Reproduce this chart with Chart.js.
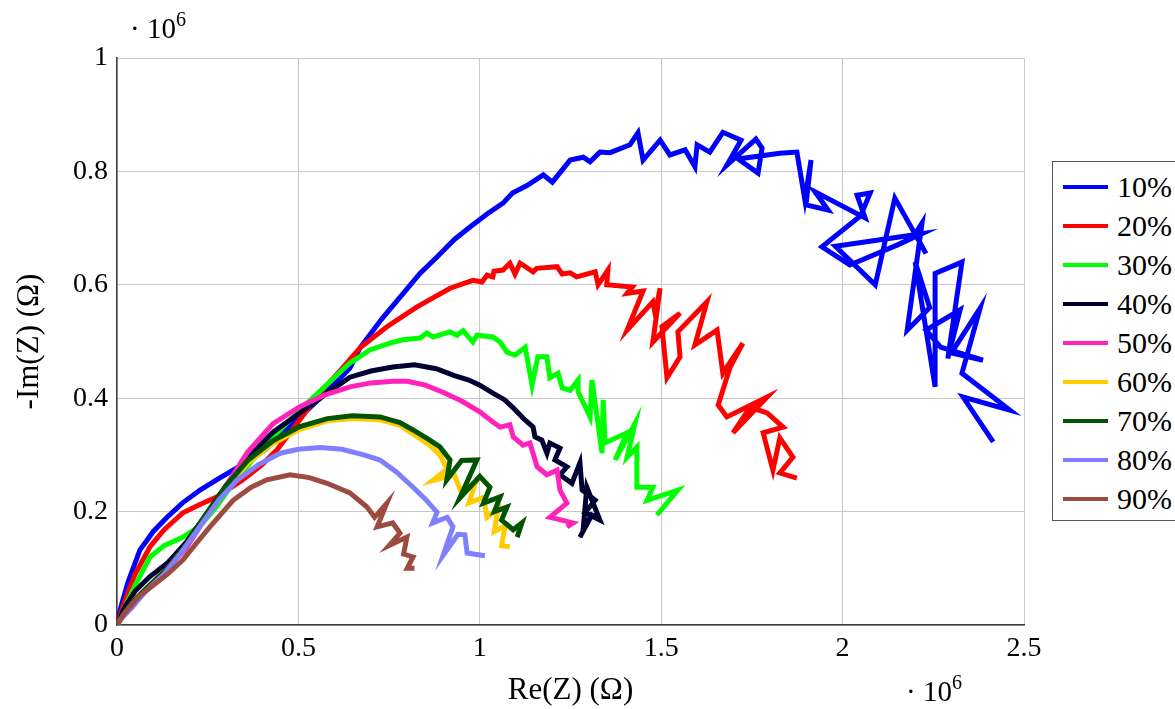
<!DOCTYPE html>
<html>
<head>
<meta charset="utf-8">
<script src="https://cdn.jsdelivr.net/npm/chart.js@4/dist/chart.umd.min.js"></script>
<style>
  body { margin: 0; background: #fff; overflow: hidden; }
  #wrap { position: relative; width: 1175px; height: 709px; overflow: hidden; font-family: "Liberation Serif", "DejaVu Serif", serif; }
  #c { position: absolute; left: 0; top: 0; }
  .mult { position: absolute; font-size: 29px; line-height: 1; color: #000; white-space: nowrap; }
  .mult sup { font-size: 20px; vertical-align: 0; position: relative; top: -12px; }
  #legend { position: absolute; left: 1052px; top: 161px; width: 150px; height: 360px; border: 1px solid #555; background: #fff; box-sizing: border-box; }
  .item { position: absolute; left: 10px; height: 39px; display: flex; align-items: center; font-size: 30px; }
  .item i { display: inline-block; width: 45px; height: 4px; margin-right: 9px; }
</style>
</head>
<body>
<div id="wrap">
  <canvas id="c" width="1175" height="709"></canvas>
  <div class="mult" style="left:130px; top:14px;">· 10<sup>6</sup></div>
  <div class="mult" style="left:906px; top:677px;">· 10<sup>6</sup></div>
  <div id="legend"></div>
</div>
<script>
// 凡例ラベルと色
const labels = ['10%', '20%', '30%', '40%', '50%', '60%', '70%', '80%', '90%'];
const colors = ['#0000ff', '#ff0000', '#00ff00', '#000033', '#ff22bb', '#ffcc00', '#005400', '#8080ff', '#9b4b3f'];

// 軸の目盛 (単位 10^6 Ω)
const xTicks = [0, 0.5, 1, 1.5, 2, 2.5];
const yTicks = [0, 0.2, 0.4, 0.6, 0.8, 1];

// 各系列 [Re(Z), -Im(Z)] (単位 10^6 Ω)
const z10 = [[0,0],[0.01,0.03],[0.03,0.075],[0.063,0.132],[0.10,0.165],[0.138,0.19],[0.18,0.215],[0.229,0.238],[0.28,0.258],[0.32,0.273],[0.367,0.291],[0.41,0.31],[0.45,0.335],[0.504,0.367],[0.56,0.40],[0.60,0.425],[0.642,0.453],[0.67,0.489],[0.73,0.54],[0.789,0.585],[0.835,0.62],[0.882,0.649],[0.93,0.68],[0.973,0.702],[1.02,0.725],[1.064,0.744],[1.09,0.762],[1.13,0.775],[1.175,0.794],[1.2,0.781],[1.249,0.82],[1.285,0.825],[1.304,0.817],[1.331,0.834],[1.359,0.833],[1.414,0.847],[1.436,0.868],[1.45,0.82],[1.497,0.855],[1.524,0.829],[1.566,0.838],[1.593,0.808],[1.599,0.847],[1.634,0.834],[1.670,0.869],[1.720,0.855],[1.681,0.811],[1.761,0.857],[1.778,0.841],[1.767,0.797],[1.712,0.822],[1.827,0.832],[1.874,0.834],[1.896,0.750],[1.913,0.820],[1.899,0.741],[1.960,0.732],[1.924,0.764],[2.062,0.718],[2.040,0.758],[2.076,0.762],[2.050,0.722],[1.943,0.667],[2.020,0.635],[2.150,0.670],[2.218,0.690],[1.980,0.668],[2.090,0.600],[2.144,0.753],[2.230,0.655],[2.200,0.690],[2.219,0.709],[2.178,0.520],[2.240,0.560],[2.200,0.640],[2.255,0.420],[2.255,0.620],[2.329,0.640],[2.290,0.470],[2.324,0.556],[2.230,0.520],[2.270,0.490],[2.387,0.467],[2.300,0.480],[2.379,0.559],[2.329,0.444],[2.461,0.379],[2.332,0.402],[2.415,0.323]];
const z20 = [[0,0],[0.02,0.04],[0.05,0.09],[0.091,0.138],[0.13,0.168],[0.182,0.198],[0.23,0.213],[0.276,0.226],[0.347,0.256],[0.40,0.283],[0.441,0.309],[0.504,0.362],[0.56,0.41],[0.62,0.452],[0.67,0.489],[0.744,0.526],[0.827,0.561],[0.918,0.594],[0.981,0.608],[1.006,0.605],[1.02,0.617],[1.036,0.614],[1.039,0.624],[1.064,0.626],[1.083,0.638],[1.097,0.619],[1.111,0.638],[1.147,0.623],[1.157,0.629],[1.213,0.632],[1.227,0.619],[1.249,0.621],[1.267,0.614],[1.318,0.623],[1.326,0.600],[1.353,0.626],[1.350,0.600],[1.420,0.596],[1.406,0.585],[1.450,0.589],[1.406,0.520],[1.477,0.570],[1.483,0.550],[1.497,0.594],[1.477,0.499],[1.552,0.550],[1.502,0.526],[1.516,0.436],[1.552,0.473],[1.546,0.517],[1.626,0.570],[1.593,0.494],[1.654,0.520],[1.670,0.444],[1.725,0.497],[1.690,0.455],[1.657,0.388],[1.681,0.367],[1.792,0.402],[1.698,0.339],[1.745,0.384],[1.792,0.374],[1.836,0.349],[1.781,0.339],[1.808,0.273],[1.827,0.330],[1.863,0.296],[1.827,0.268],[1.874,0.259]];
const z30 = [[0,0],[0.02,0.03],[0.05,0.07],[0.091,0.12],[0.13,0.14],[0.182,0.155],[0.229,0.175],[0.27,0.205],[0.32,0.25],[0.413,0.321],[0.504,0.379],[0.58,0.425],[0.642,0.462],[0.697,0.485],[0.752,0.497],[0.788,0.503],[0.835,0.506],[0.854,0.515],[0.871,0.508],[0.918,0.517],[0.937,0.511],[0.954,0.519],[0.981,0.499],[0.992,0.511],[1.036,0.508],[1.056,0.499],[1.075,0.481],[1.097,0.476],[1.125,0.490],[1.144,0.423],[1.160,0.473],[1.185,0.473],[1.193,0.436],[1.216,0.444],[1.227,0.418],[1.249,0.414],[1.271,0.432],[1.271,0.411],[1.304,0.367],[1.309,0.432],[1.337,0.303],[1.340,0.397],[1.345,0.321],[1.406,0.339],[1.373,0.291],[1.428,0.356],[1.406,0.296],[1.433,0.314],[1.433,0.243],[1.477,0.243],[1.461,0.220],[1.546,0.238],[1.488,0.194]];
const z40 = [[0,0],[0.02,0.03],[0.05,0.06],[0.09,0.085],[0.14,0.11],[0.19,0.145],[0.24,0.19],[0.30,0.245],[0.36,0.295],[0.43,0.34],[0.504,0.374],[0.57,0.405],[0.642,0.437],[0.70,0.448],[0.76,0.455],[0.82,0.459],[0.88,0.452],[0.93,0.44],[0.97,0.432],[1.0,0.423],[1.036,0.409],[1.069,0.397],[1.092,0.383],[1.119,0.365],[1.147,0.349],[1.152,0.332],[1.171,0.326],[1.185,0.303],[1.193,0.321],[1.221,0.312],[1.207,0.291],[1.240,0.279],[1.221,0.265],[1.254,0.25],[1.276,0.286],[1.282,0.238],[1.318,0.22],[1.290,0.198],[1.331,0.185],[1.295,0.243],[1.285,0.17],[1.312,0.198],[1.276,0.155]];
const z50 = [[0,0],[0.02,0.02],[0.05,0.045],[0.09,0.07],[0.14,0.10],[0.19,0.135],[0.24,0.185],[0.30,0.245],[0.36,0.305],[0.43,0.355],[0.504,0.385],[0.57,0.405],[0.642,0.42],[0.70,0.427],[0.76,0.43],[0.80,0.43],[0.85,0.423],[0.90,0.41],[0.95,0.395],[1.0,0.376],[1.036,0.358],[1.056,0.349],[1.083,0.353],[1.092,0.332],[1.119,0.317],[1.138,0.321],[1.158,0.279],[1.185,0.265],[1.213,0.273],[1.221,0.238],[1.240,0.215],[1.193,0.19],[1.257,0.18],[1.240,0.173]];
const z60 = [[0,0],[0.02,0.02],[0.05,0.045],[0.09,0.07],[0.14,0.10],[0.19,0.14],[0.24,0.188],[0.30,0.24],[0.36,0.285],[0.43,0.32],[0.504,0.345],[0.58,0.36],[0.648,0.364],[0.725,0.362],[0.78,0.352],[0.816,0.337],[0.86,0.318],[0.89,0.30],[0.91,0.275],[0.87,0.255],[0.93,0.265],[0.95,0.232],[0.99,0.255],[0.97,0.215],[1.01,0.225],[1.02,0.19],[1.05,0.205],[1.04,0.165],[1.07,0.175],[1.06,0.14],[1.083,0.138]];
const z70 = [[0,0],[0.02,0.02],[0.05,0.045],[0.09,0.07],[0.14,0.10],[0.19,0.14],[0.24,0.19],[0.30,0.245],[0.36,0.29],[0.43,0.325],[0.504,0.35],[0.58,0.364],[0.648,0.369],[0.725,0.367],[0.78,0.357],[0.816,0.344],[0.86,0.327],[0.89,0.314],[0.918,0.291],[0.909,0.256],[0.95,0.29],[0.992,0.291],[0.945,0.224],[1.0,0.262],[1.028,0.243],[1.01,0.215],[1.056,0.226],[1.04,0.20],[1.075,0.208],[1.06,0.185],[1.092,0.168],[1.116,0.18],[1.103,0.155]];
const z80 = [[0,0],[0.01,0.01],[0.04,0.03],[0.08,0.06],[0.13,0.09],[0.18,0.13],[0.23,0.175],[0.28,0.22],[0.33,0.255],[0.39,0.283],[0.45,0.303],[0.50,0.31],[0.56,0.313],[0.62,0.31],[0.68,0.30],[0.725,0.291],[0.77,0.27],[0.816,0.243],[0.85,0.222],[0.882,0.199],[0.87,0.18],[0.91,0.19],[0.926,0.173],[0.899,0.123],[0.94,0.16],[0.959,0.159],[0.965,0.127],[1.014,0.122]];
const z90 = [[0,0],[0.02,0.02],[0.06,0.05],[0.10,0.07],[0.14,0.09],[0.182,0.115],[0.22,0.145],[0.256,0.173],[0.32,0.22],[0.37,0.243],[0.413,0.256],[0.477,0.265],[0.53,0.26],[0.579,0.25],[0.642,0.233],[0.689,0.208],[0.71,0.19],[0.744,0.215],[0.717,0.173],[0.76,0.18],[0.78,0.162],[0.75,0.14],[0.799,0.155],[0.79,0.125],[0.816,0.12],[0.80,0.10],[0.82,0.10]];

const series = [z10, z20, z30, z40, z50, z60, z70, z80, z90];

// 目盛ラベル: 0.5 → "0.5", 1.0 → "1"
function fmt(v) {
  return String(Number(v.toFixed(1)));
}

const datasets = series.map((pts, i) => ({
  label: labels[i],
  data: pts.map(p => ({ x: p[0], y: p[1] })),
  borderColor: colors[i],
  backgroundColor: colors[i],
  borderWidth: 5,
  borderJoinStyle: 'miter',
  borderCapStyle: 'butt',
  showLine: true,
  pointRadius: 0,
  tension: 0,
  order: series.length - 1 - i, // 後の系列を上に描く
}));

const family = '"Liberation Serif", "DejaVu Serif", serif';
const tickFont = { family, size: 28 };
const titleFont = { family, size: 31 };

new Chart(document.getElementById('c'), {
  type: 'scatter',
  data: { datasets },
  options: {
    responsive: false,
    animation: false,
    layout: { padding: { left: 0, top: 58, right: 151, bottom: 0 } },
    plugins: { legend: { display: false }, tooltip: { enabled: false } },
    scales: {
      x: {
        type: 'linear', min: 0, max: 2.5,
        afterBuildTicks: s => { s.ticks = xTicks.map(v => ({ value: v })); },
        afterFit: s => { s.height = 84; },
        ticks: { color: '#000', font: tickFont, padding: 7, maxRotation: 0, callback: v => fmt(v) },
        grid: { color: '#c8c8c8', lineWidth: 1, drawTicks: false },
        border: { color: '#404040', width: 1.5 },
        title: { display: true, text: 'Re(Z) (Ω)', color: '#000', font: titleFont, padding: { top: 0, bottom: 0 } },
      },
      y: {
        type: 'linear', min: 0, max: 1,
        afterBuildTicks: s => { s.ticks = yTicks.map(v => ({ value: v })); },
        afterFit: s => { s.width = 117; },
        ticks: { color: '#000', font: tickFont, padding: 9, callback: v => fmt(v) },
        grid: { color: '#c8c8c8', lineWidth: 1, drawTicks: false },
        border: { color: '#404040', width: 1.5 },
        title: { display: true, text: '-Im(Z) (Ω)', color: '#000', font: titleFont, padding: { top: 11, bottom: 0 } },
      },
    },
  },
});

// 凡例 (HTML)
const legend = document.getElementById('legend');
labels.forEach((lab, i) => {
  const row = document.createElement('div');
  row.className = 'item';
  row.style.top = (5 + i * 39) + 'px';
  row.innerHTML = `<i style="background:${colors[i]}"></i><span>${lab}</span>`;
  legend.appendChild(row);
});
</script>
</body>
</html>
